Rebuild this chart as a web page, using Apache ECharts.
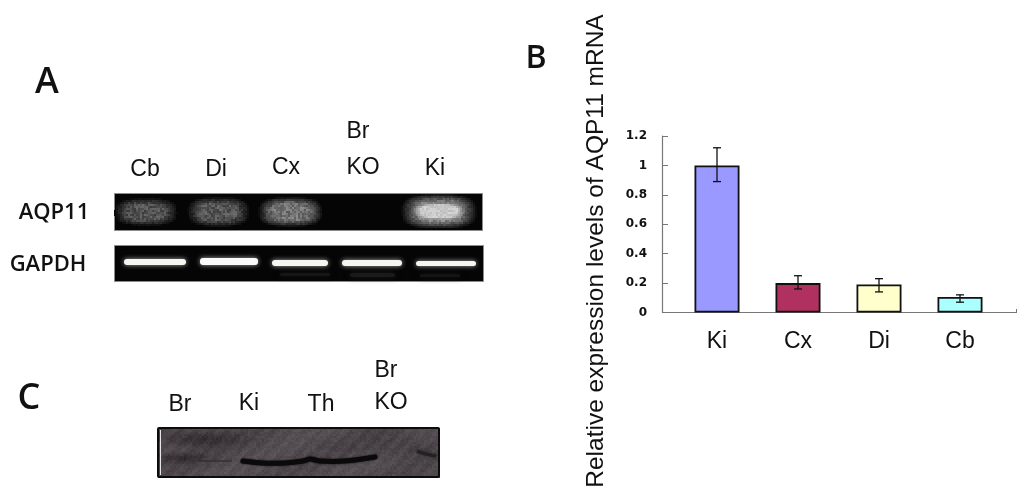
<!DOCTYPE html>
<html>
<head>
<meta charset="utf-8">
<style>
  html, body { margin: 0; padding: 0; background: #fff; }
  #chart { width: 1024px; height: 500px; }
</style>
<script src="https://cdn.jsdelivr.net/npm/echarts@6/dist/echarts.min.js"></script>
</head>
<body>
<div id="chart"></div>
<script>
// values
const categories = ['Ki', 'Cx', 'Di', 'Cb'];
const expression = [1.0, 0.2, 0.19, 0.105];
const errorLow = [0.89, 0.16, 0.14, 0.07];
const errorHigh = [1.12, 0.25, 0.23, 0.12];
const barColors = ['#9999ff', '#b03060', '#ffffcc', '#aaffff'];
const yTicks = ['0', '0.2', '0.4', '0.6', '0.8', '1', '1.2'];
const gelLanesA = ['Cb', 'Di', 'Cx', 'KO', 'Ki'];
const blotLanesC = ['Br', 'Ki', 'Th', 'KO'];

const chart = echarts.init(document.getElementById('chart'));
const sans = '"Liberation Sans", Arial, sans-serif';
const open = '"Open Sans", sans-serif';

const label = (text, x, y, size, font) => ({
  type: 'text', x, y,
  style: {
    text, fontSize: size || 23, fontFamily: font || sans, fontWeight: font === open ? 600 : 'normal',
    fill: '#111', align: 'center', verticalAlign: 'middle'
  }
});
const panel = (x, y, width, height) => ({
  type: 'rect', shape: { x: x + 0.5, y: y + 0.5, width, height },
  style: { fill: '#050505', stroke: '#8c8c8c', lineWidth: 1 }
});
const band = (x, y, width, height, fill, blur, shadow) => ({
  type: 'rect', shape: { x, y, width, height, r: 3 },
  style: { fill, shadowBlur: blur, shadowColor: shadow || fill }
});

// grain for the photographed gels, fixed so the picture does not change between runs
const grain = (x, y) => {
  const s = Math.sin(x * 12.9898 + y * 78.233) * 43758.5453;
  return s - Math.floor(s);
};

// soft mottled smear on the gel, built from small cells
const smear = (x0, y0, w, h, peak, noise, floor) => {
  const out = [];
  for (let y = y0; y < y0 + h; y += 2) {
    for (let x = x0; x < x0 + w; x += 2) {
      const dx = Math.abs((x + 1 - x0) / w - 0.5) * 2;
      const dy = Math.abs((y + 1 - y0) / h - 0.5) * 2;
      const d = Math.pow(Math.pow(dx, 3) + Math.pow(dy, 3), 1 / 3);
      const f = Math.max(0, Math.min(1, (1 - d) / 0.45));
      const v = Math.round(6 + peak * f * (1 - noise + 2 * noise * grain(x, y)));
      if (v > (floor || 10)) out.push({
        type: 'rect', shape: { x, y, width: 2, height: 2 },
        style: { fill: `rgb(${v},${v},${v})` }
      });
    }
  }
  return out;
};

// mottled background of the western blot with its darker patches
const blotCells = (x0, y0, w, h) => {
  const out = [];
  const patch = (x, y, cx, cy, rx, ry) => Math.exp(-Math.pow((x - cx) / rx, 2) - Math.pow((y - cy) / ry, 2));
  for (let y = y0; y < y0 + h; y += 2) {
    for (let x = x0; x < x0 + w; x += 2) {
      const hatch = 4 * Math.sin((x + y) / 2.5) + 5 * Math.sin(x / 19 + y / 9);
      const dark = 30 * patch(x, y, 198, 438, 38, 8) + 28 * patch(x, y, 180, 457, 24, 5) + 12 * patch(x, y, 400, 445, 40, 12);
      const v = Math.round(80 + hatch - dark + 12 * (grain(x, y) - 0.5));
      out.push({
        type: 'rect', shape: { x, y, width: 2, height: 2 },
        style: { fill: `rgb(${v},${v - 7},${v - 3})` }
      });
    }
  }
  return out;
};

const graphic = [
  label('A', 47, 83, 36, open),
  label('B', 536, 59, 32, open),
  label('C', 29, 399, 36, open),

  // panel A text
  label('Br', 358, 132),
  label(gelLanesA[0], 145, 170),
  label(gelLanesA[1], 216, 170),
  label(gelLanesA[2], 286, 168),
  label(gelLanesA[3], 363, 168),
  label(gelLanesA[4], 435, 169),
  label('AQP11', 54, 213, 22, open),
  label('GAPDH', 48, 265, 22, open),

  // AQP11 gel
  panel(114, 193, 368, 37),
  ...smear(114, 198, 64, 28, 76, 0.32),
  ...smear(187, 197, 63, 30, 80, 0.32),
  ...smear(258, 197, 65, 30, 108, 0.26),
  ...smear(401, 194, 76, 35, 125, 0.2),
  ...smear(406, 200, 66, 23, 195, 0.07, 118),

  // GAPDH gel
  panel(114, 245, 369, 36),
  band(280, 273, 50, 3, '#161616', 6),
  band(350, 273, 45, 4, '#1a1a1a', 6),
  band(420, 274, 40, 3, '#141414', 6),
  band(124, 259, 62, 6, '#f6f6f0', 5, '#aaaaaa'),
  band(200, 258, 58, 7, '#fafafa', 5, '#aaaaaa'),
  band(272, 260, 56, 6, '#f6f6f0', 5, '#aaaaaa'),
  band(342, 260, 60, 6, '#f6f6f0', 5, '#aaaaaa'),
  band(416, 261, 60, 5, '#f6f6f0', 5, '#aaaaaa'),

  // panel C text
  label('Br', 386, 371),
  label(blotLanesC[0], 180, 405),
  label(blotLanesC[1], 249, 404),
  label(blotLanesC[2], 321, 405),
  label(blotLanesC[3], 391, 403),

  // western blot
  ...blotCells(158, 428, 281, 49),
  { type: 'rect', shape: { x: 158, y: 428, width: 281, height: 49, r: 1 }, style: { fill: 'none', stroke: '#0c0c0c', lineWidth: 2 } },
  { type: 'line', shape: { x1: 160.5, y1: 430, x2: 160.5, y2: 475 }, style: { stroke: '#e6e6e6', lineWidth: 1 } },
  { type: 'polyline', shape: { points: [[200, 461], [232, 461]] }, style: { stroke: '#332f31', lineWidth: 1.5, fill: 'none' } },
  {
    type: 'polyline',
    shape: { smooth: 0.3, points: [[243, 461], [262, 463], [285, 463], [303, 461], [310, 459], [320, 461], [345, 461], [375, 457]] },
    style: { stroke: '#0a0a0a', lineWidth: 5, lineCap: 'round', fill: 'none', shadowBlur: 2, shadowColor: '#111' }
  },
  { type: 'polyline', shape: { smooth: 0.3, points: [[417, 451], [426, 454], [436, 456]] }, style: { stroke: '#242123', lineWidth: 3, fill: 'none', shadowBlur: 3, shadowColor: '#222' } },

  // y title of panel B
  {
    type: 'text', x: 596, y: 251, rotation: Math.PI / 2,
    style: { text: 'Relative expression levels of AQP11 mRNA', fontSize: 24.5, fontFamily: sans, fill: '#111', align: 'center', verticalAlign: 'middle' }
  },

  // the x axis line runs past the category band on both sides
  { type: 'line', shape: { x1: 662, y1: 312.5, x2: 1017, y2: 312.5 }, style: { stroke: '#777', lineWidth: 1.2 } },
  { type: 'line', shape: { x1: 1016.5, y1: 309, x2: 1016.5, y2: 312.5 }, style: { stroke: '#777', lineWidth: 1 } }
];

chart.setOption({
  animation: false,
  backgroundColor: '#fff',
  graphic: { elements: graphic },
  grid: { left: 676.5, top: 136, width: 324, height: 176.5 },
  xAxis: {
    type: 'category',
    data: categories,
    axisLine: { show: false },
    axisTick: { show: false },
    axisLabel: { margin: 18, fontSize: 23, fontFamily: sans, color: '#111' }
  },
  yAxis: {
    type: 'value',
    min: 0,
    max: 1.2,
    interval: 0.2,
    offset: 14.5,
    splitLine: { show: false },
    axisLine: { show: true, lineStyle: { color: '#777', width: 1.2 } },
    axisTick: { show: true, inside: true, length: 6, lineStyle: { color: '#777' } },
    axisLabel: {
      margin: 15, fontSize: 12, fontWeight: 'bold', fontFamily: '"DejaVu Sans", sans-serif', color: '#111',
      formatter: (v) => yTicks[Math.round(v / 0.2)]
    }
  },
  series: [
    {
      type: 'bar',
      barWidth: 45,
      data: expression.map((v, i) => ({ value: v, itemStyle: { color: barColors[i] } })),
      itemStyle: { borderColor: '#111', borderWidth: 1.8 }
    },
    {
      type: 'custom',
      z: 5,
      data: categories.map((c, i) => [i, errorLow[i], errorHigh[i]]),
      renderItem: (params, api) => {
        const lo = api.coord([api.value(0), api.value(1)]);
        const hi = api.coord([api.value(0), api.value(2)]);
        const style = { stroke: '#111', lineWidth: 1.3 };
        const cap = 4;
        return {
          type: 'group',
          children: [
            { type: 'line', shape: { x1: lo[0], y1: lo[1], x2: hi[0], y2: hi[1] }, style },
            { type: 'line', shape: { x1: lo[0] - cap, y1: lo[1], x2: lo[0] + cap, y2: lo[1] }, style },
            { type: 'line', shape: { x1: hi[0] - cap, y1: hi[1], x2: hi[0] + cap, y2: hi[1] }, style }
          ]
        };
      }
    }
  ]
});
</script>
</body>
</html>
